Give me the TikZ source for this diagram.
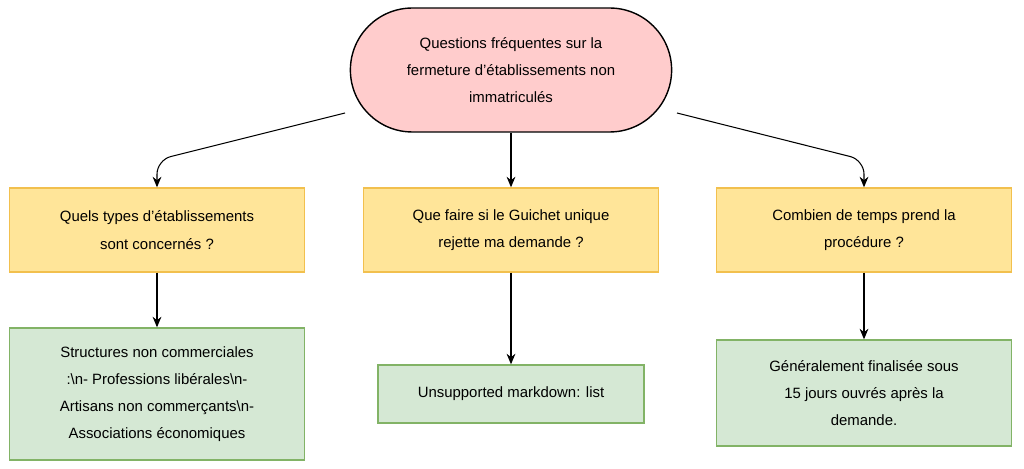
\documentclass[tikz,border=0pt]{standalone}
\usepackage{fontspec}
\setmainfont{Liberation Sans}
\usetikzlibrary{shapes.misc,arrows.meta}
\definecolor{faqPink}{HTML}{FFCCCC}
\definecolor{faqYellow}{HTML}{FFE599}
\definecolor{faqYellowLine}{HTML}{F2C04E}
\definecolor{faqGreen}{HTML}{D5E8D4}
\definecolor{faqGreenLine}{HTML}{82B366}

\begin{document}
\begin{tikzpicture}[x=0.02cm, y=-0.02cm,
        root/.style={rounded rectangle, draw=black, thick, fill=faqPink, minimum width=6.66cm, minimum height=2.48cm, align=center, font=\fontsize{8.5}{15.5}\selectfont},
        question/.style={rectangle, draw=faqYellowLine, thick, fill=faqYellow, minimum width=5.9cm, minimum height=1.68cm, align=center, font=\fontsize{8.5}{15.5}\selectfont},
        answer/.style={rectangle, draw=faqGreenLine, thick, fill=faqGreen, minimum width=5.9cm, align=center, font=\fontsize{8.5}{15.5}\selectfont},
        link/.style={-{Stealth[length=6pt,width=5pt]}, semithick, rounded corners=8pt}
    ]
        \useasboundingbox (0,0) rectangle (1024,469);

        \node[root] (faq) at (511,70) {Questions fréquentes sur la\\fermeture d’établissements non\\immatriculés};

        \node[question] (qtypes) at (157,230) {Quels types d’établissements\\sont concernés ?};
        \node[question] (qrejet) at (511,230) {Que faire si le Guichet unique\\rejette ma demande ?};
        \node[question] (qtemps) at (864,230) {Combien de temps prend la\\procédure ?};

        \node[answer, minimum height=2.64cm] (atypes) at (157,394) {Structures non commerciales\\:\textbackslash n- Professions libérales\textbackslash n-\\Artisans non commerçants\textbackslash n-\\Associations économiques};
        \node[answer, minimum width=5.32cm, minimum height=1.16cm] (arejet) at (511,394) {Unsupported markdown: list};
        \node[answer, minimum height=2.12cm] (atemps) at (864,393) {Généralement finalisée sous\\15 jours ouvrés après la\\demande.};

        \coordinate (fl) at (345,113);
        \coordinate (fr) at (677,113);
        \draw[link] (fl) -- (157,160) -- (qtypes.north);
        \draw[link] (faq.south) -- (qrejet.north);
        \draw[link] (fr) -- (864,160) -- (qtemps.north);

        \draw[link] (qtypes) -- (atypes);
        \draw[link] (qrejet) -- (arejet);
        \draw[link] (qtemps) -- (atemps);
    \end{tikzpicture}
\end{document}
